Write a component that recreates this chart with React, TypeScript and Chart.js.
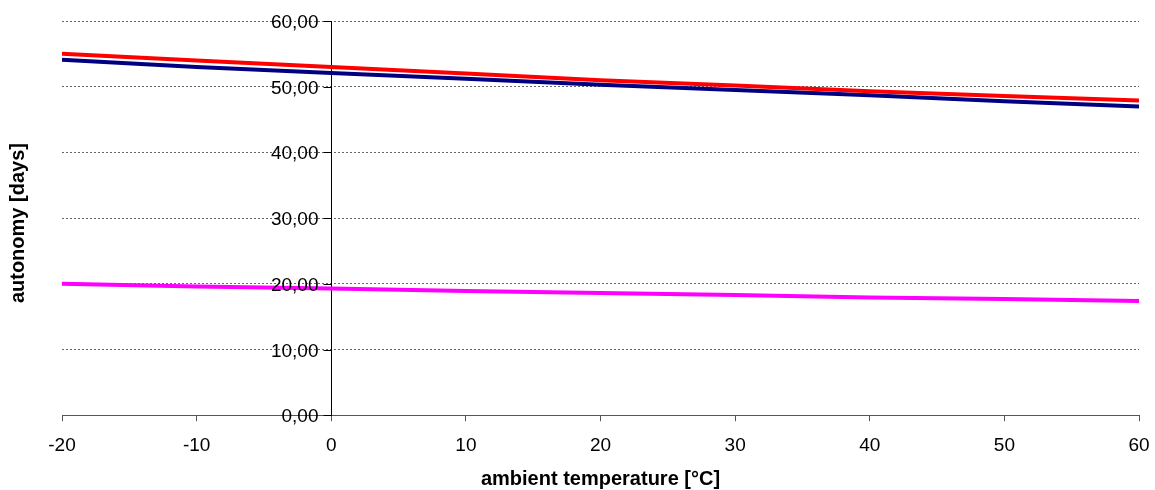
import React, { useEffect, useRef } from "react";
import { Chart, registerables } from "chart.js";

Chart.register(...registerables);

const temperatures = [-20, -10, 0, 10, 20, 30, 40, 50, 60];
const seriesRed = [55.0, 54.0, 53.0, 52.0, 51.0, 50.2, 49.3, 48.6, 47.9];
const seriesBlue = [54.1, 53.0, 52.1, 51.2, 50.3, 49.5, 48.7, 47.8, 47.0];
const seriesMagenta = [20.0, 19.6, 19.3, 18.9, 18.6, 18.3, 17.9, 17.7, 17.4];
const xTitle = "ambient temperature [°C]";
const yTitle = "autonomy [days]";

const FONT = "'Liberation Sans', Arial, sans-serif";
const fmt = (v: number) => Number(v).toFixed(2).replace(".", ",");

const axisDecorPlugin = {
  id: "axisDecorPlugin",
  afterDraw(chart: any) {
    const ctx = chart.ctx;
    const area = chart.chartArea;
    const ys = chart.scales.y;
    const xs = chart.scales.x;
    const axisX = Math.round(xs.getPixelForValue(0)) + 0.5;
    ctx.save();
    ctx.strokeStyle = "#000";
    ctx.lineWidth = 1;
    ctx.font = `19px ${FONT}`;
    ctx.fillStyle = "#000";
    ctx.textAlign = "right";
    ctx.textBaseline = "middle";
    ys.ticks.forEach((t: any) => {
      const py = Math.round(ys.getPixelForValue(t.value)) + 0.5;
      ctx.beginPath();
      ctx.moveTo(axisX - 8, py);
      ctx.lineTo(axisX, py);
      ctx.stroke();
      ctx.fillText(fmt(t.value), axisX - 13, py + 1);
    });
    ctx.font = `bold 20px ${FONT}`;
    ctx.textAlign = "center";
    ctx.translate(18, (area.top + area.bottom) / 2 + 5);
    ctx.rotate(-Math.PI / 2);
    ctx.fillText(yTitle, 0, 0);
    ctx.restore();
  },
};

export default function App() {
  const ref = useRef<HTMLCanvasElement | null>(null);

  useEffect(() => {
    if (!ref.current) return;
    const toPts = (vals: number[]) => temperatures.map((t, i) => ({ x: t, y: vals[i] }));
    const chart = new Chart(ref.current, {
      type: "line",
      data: {
        datasets: [
          {
            label: "series 1",
            data: toPts(seriesRed),
            borderColor: "#ff0000",
            backgroundColor: "#ff0000",
            borderWidth: 4,
            pointRadius: 0,
            tension: 0,
          },
          {
            label: "series 2",
            data: toPts(seriesBlue),
            borderColor: "#000080",
            backgroundColor: "#000080",
            borderWidth: 4,
            pointRadius: 0,
            tension: 0,
          },
          {
            label: "series 3",
            data: toPts(seriesMagenta),
            borderColor: "#ff00ff",
            backgroundColor: "#ff00ff",
            borderWidth: 4,
            pointRadius: 0,
            tension: 0,
          },
        ],
      },
      options: {
        animation: false,
        responsive: true,
        maintainAspectRatio: false,
        layout: { padding: { left: 62, right: 16, top: 21, bottom: 1 } },
        plugins: {
          legend: { display: false },
          tooltip: { enabled: false },
        },
        scales: {
          x: {
            type: "linear",
            min: -20,
            max: 60,
            position: "bottom",
            afterFit: (scale: any) => {
              scale.paddingRight = 0;
              scale.paddingLeft = 0;
            },
            ticks: {
              stepSize: 10,
              color: "#000",
              font: { family: FONT, size: 19 },
              padding: 13,
            },
            grid: {
              drawOnChartArea: false,
              drawTicks: true,
              tickLength: 6,
              color: "#555",
            },
            border: { display: true, color: "#555", width: 1 },
            title: {
              display: true,
              text: xTitle,
              color: "#000",
              font: { family: FONT, size: 20, weight: "bold", lineHeight: 0.95 },
              padding: { top: 0, bottom: 0 },
            },
          },
          y: {
            type: "linear",
            min: 0,
            max: 60,
            position: { x: 0 } as any,
            ticks: {
              stepSize: 10,
              display: false,
            },
            grid: {
              drawOnChartArea: true,
              drawTicks: false,
              color: "#666",
              lineWidth: 1,
            },
            border: { display: true, color: "#000", width: 1, dash: [2, 2] },
          },
        },
      },
      plugins: [axisDecorPlugin],
    });
    return () => chart.destroy();
  }, []);

  return (
    <div style={{ position: "fixed", left: 0, top: 0, width: 1155, height: 490 }}>
      <canvas ref={ref} />
    </div>
  );
}
